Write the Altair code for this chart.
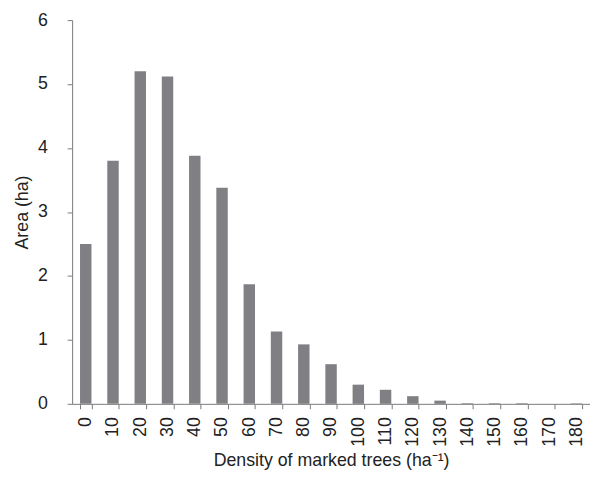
import altair as alt
import pandas as pd

density = ["0", "10", "20", "30", "40", "50", "60", "70", "80", "90",
           "100", "110", "120", "130", "140", "150", "160", "170", "180"]
area = [2.50, 3.80, 5.20, 5.12, 3.88, 3.38, 1.87, 1.13, 0.93, 0.62,
        0.30, 0.22, 0.12, 0.05, 0.01, 0.01, 0.01, 0.0, 0.01]

df = pd.DataFrame({"density": density, "area": area})

FONT = "Liberation Sans"

chart = alt.Chart(df).mark_bar(color="#808084").encode(
    x=alt.X("density:N", sort=density,
            scale=alt.Scale(paddingInner=0.58, paddingOuter=0.29),
            axis=alt.Axis(title="Density of marked trees (ha\u207b\u00b9)",
                          labelAngle=-90, labelAlign="right", labelBaseline="middle",
                          tickBand="extent", tickSize=5, labelPadding=8,
                          titlePadding=5, domainColor="#7a7a7a", tickColor="#7a7a7a",
                          labelFont=FONT, titleFont=FONT, labelFontSize=18,
                          titleFontSize=18, titleFontWeight="normal",
                          labelColor="#222", titleColor="#222")),
    y=alt.Y("area:Q", scale=alt.Scale(domain=[0, 6]),
            axis=alt.Axis(title="Area (ha)", values=[0, 1, 2, 3, 4, 5, 6],
                          grid=False, tickSize=5, labelPadding=20, titlePadding=6,
                          domainColor="#7a7a7a", tickColor="#7a7a7a",
                          labelFont=FONT, titleFont=FONT, labelFontSize=18,
                          titleFontSize=18, titleFontWeight="normal",
                          labelColor="#222", titleColor="#222")),
).properties(
    width=525, height=389,
    autosize=alt.AutoSizeParams(type="none"),
    padding={"left": 65, "top": 9, "right": 0, "bottom": 80},
).configure_view(stroke=None)

chart.save("out.html", embed_options={"renderer": "svg", "actions": False})
